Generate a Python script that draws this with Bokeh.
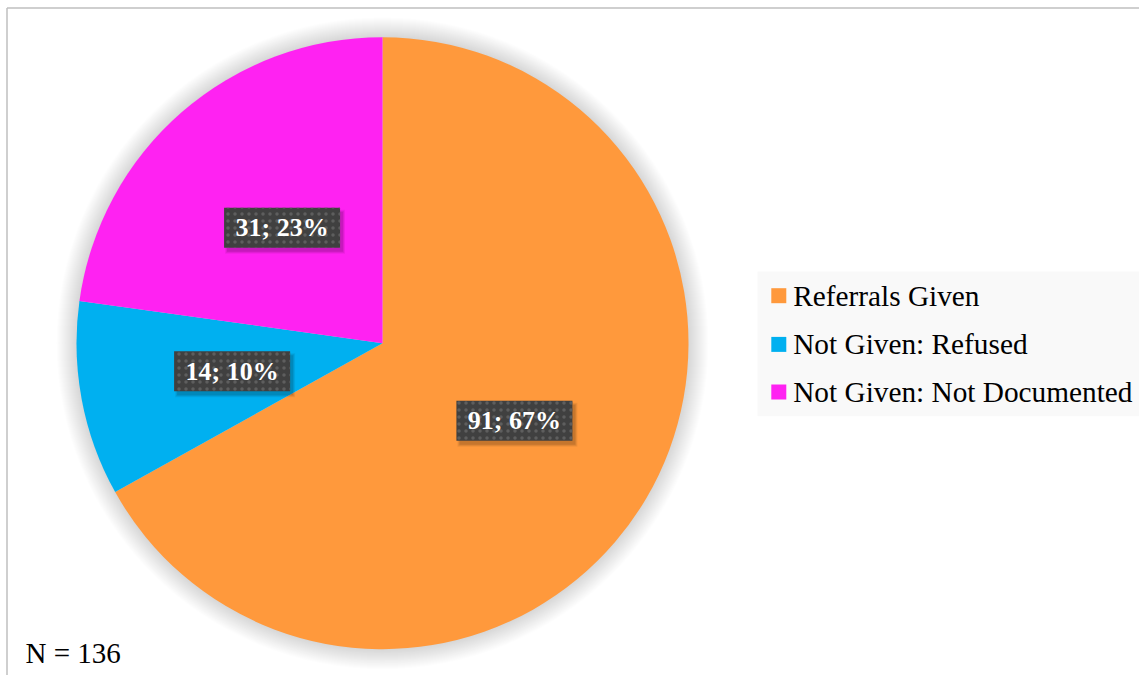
import math
from bokeh.plotting import figure
from bokeh.models import ColumnDataSource
from bokeh.core.properties import value
from bokeh.embed import file_html
from bokeh.resources import INLINE

# ---- data ----
categories = ["Referrals Given", "Not Given: Refused", "Not Given: Not Documented"]
counts = [91, 14, 31]
colors = ["#FF993C", "#00B0F0", "#FF22F2"]
note = "N = 136"

# ---- layout (1 data unit == 1 screen pixel) ----
W, H = 1139, 675
p = figure(width=W, height=H, x_range=(0, W), y_range=(-8, H - 8),
           output_backend="svg", toolbar_location=None, min_border=0)
p.axis.visible = False
p.grid.visible = False
p.outline_line_color = None
p.background_fill_color = "white"
p.border_fill_color = "white"

# frame (left & top edges visible in reference)
p.segment(x0=[6.5, 6.5], y0=[659.5, 659.5], x1=[6.5, W], y1=[-8, 659.5],
          line_color="#bfbfbf", line_width=1.5)

cx, cy, R = 382.0, 324.3, 306.0
total = sum(counts)

# soft glow shadow around pie
for k in range(20, 0, -1):
    p.circle(x=[cx], y=[cy], radius=R + k, fill_color="black", fill_alpha=0.0065, line_color=None)

starts, ends, lx, ly, labels = [], [], [], [], []
cum = 0
for c in counts:
    a0 = cum / total
    cum += c
    a1 = cum / total
    starts.append(math.pi / 2 - 2 * math.pi * a0)
    ends.append(math.pi / 2 - 2 * math.pi * a1)
    mid = math.pi / 2 - 2 * math.pi * (a0 + a1) / 2
    lx.append(cx + 0.5 * R * math.cos(mid))
    ly.append(cy + 0.5 * R * math.sin(mid))
    labels.append(f"{c}; {round(100 * c / total)}%")

src = ColumnDataSource(dict(cat=categories, count=counts, color=colors,
                            start=starts, end=ends, lx=lx, ly=ly, label=labels))

p.wedge(x=cx, y=cy, radius=R, start_angle="start", end_angle="end", direction="clock",
        fill_color="color", line_color=None, source=src)

# label box shadows
for i, a in enumerate([0.10, 0.08, 0.06]):
    src_sh = ColumnDataSource(dict(x=[v + 3 for v in lx], y=[v - 4 for v in ly]))
    p.rect(x="x", y="y", width=116 + 2 * i, height=40 + 2 * i,
           width_units="screen", height_units="screen",
           fill_color="black", fill_alpha=a, line_color=None, source=src_sh)

# label boxes
p.rect(x="lx", y="ly", width=116, height=40, width_units="screen", height_units="screen",
       fill_color="#404040", line_color=None, hatch_pattern=".", hatch_color="#5e5e5e",
       hatch_scale=7, hatch_weight=2, source=src)
p.text(x="lx", y="ly", text="label", text_font=value("Liberation Serif"),
       text_font_style="bold", text_font_size="26px", text_color="white",
       text_align="center", text_baseline="middle", source=src)

# legend (manual)
p.rect(x=[950], y=[323.6], width=386, height=144.7, fill_color="#f9f9f9", line_color=None)
leg_y = [371.8, 323.1, 275.5]
p.rect(x=[778.3] * 3, y=leg_y, width=15, height=15, fill_color=colors, line_color=None)
p.text(x=[792.7] * 3, y=leg_y, text=categories, text_font=value("Liberation Serif"),
       text_font_size="29.3px", text_color="black", text_align="left", text_baseline="middle")

# note
p.text(x=[25], y=[14.5], text=[note], text_font=value("Liberation Serif"),
       text_font_size="29px", text_color="black", text_align="left", text_baseline="alphabetic")

open("out.html", "w").write(file_html(p, INLINE))
